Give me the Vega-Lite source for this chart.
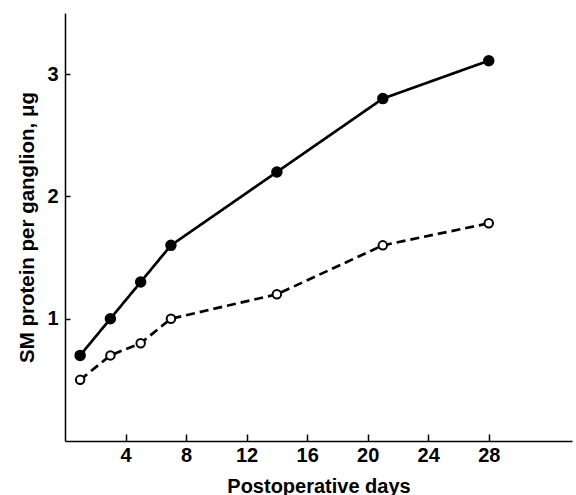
{
  "$schema": "https://vega.github.io/schema/vega-lite/v6.json",
  "width": 507,
  "height": 428,
  "autosize": "none",
  "padding": {"left": 65, "top": 13, "right": 4, "bottom": 54},
  "background": "white",
  "config": {
    "view": {"stroke": null},
    "axis": {
      "grid": false,
      "domainColor": "black",
      "domainWidth": 1.5,
      "tickColor": "black",
      "tickWidth": 1.5,
      "labelColor": "black",
      "titleColor": "black",
      "labelFont": "Liberation Sans",
      "titleFont": "Liberation Sans",
      "labelFontSize": 20,
      "titleFontSize": 20,
      "labelFontWeight": "bold",
      "titleFontWeight": "bold"
    }
  },
  "data": {
    "values": [
      {"day": 1, "protein": 0.7, "group": "filled"},
      {"day": 3, "protein": 1.0, "group": "filled"},
      {"day": 5, "protein": 1.3, "group": "filled"},
      {"day": 7, "protein": 1.6, "group": "filled"},
      {"day": 14, "protein": 2.2, "group": "filled"},
      {"day": 21, "protein": 2.8, "group": "filled"},
      {"day": 28, "protein": 3.11, "group": "filled"},
      {"day": 1, "protein": 0.5, "group": "open"},
      {"day": 3, "protein": 0.7, "group": "open"},
      {"day": 5, "protein": 0.8, "group": "open"},
      {"day": 7, "protein": 1.0, "group": "open"},
      {"day": 14, "protein": 1.2, "group": "open"},
      {"day": 21, "protein": 1.6, "group": "open"},
      {"day": 28, "protein": 1.78, "group": "open"}
    ]
  },
  "encoding": {
    "x": {
      "field": "day",
      "type": "quantitative",
      "scale": {"domain": [0, 33.5], "nice": false, "zero": false},
      "axis": {
        "values": [4, 8, 12, 16, 20, 24, 28],
        "tickSize": -7,
        "labelPadding": 27,
        "labelBaseline": "alphabetic",
        "title": "Postoperative days",
        "titleY": 51,
        "titleBaseline": "alphabetic"
      }
    },
    "y": {
      "field": "protein",
      "type": "quantitative",
      "scale": {"domain": [0, 3.5], "nice": false},
      "axis": {
        "values": [1, 2, 3],
        "tickSize": -5,
        "labelPadding": 12,
        "title": "SM protein per ganglion, μg",
        "titleX": -32,
        "titleBaseline": "alphabetic",
        "titleFontSize": 20.5
      }
    }
  },
  "layer": [
    {
      "mark": {"type": "line", "color": "black", "strokeWidth": 2.7},
      "encoding": {
        "strokeDash": {
          "field": "group",
          "type": "nominal",
          "scale": {"domain": ["filled", "open"], "range": [[1, 0], [9, 5]]},
          "legend": null
        },
        "strokeWidth": {
          "field": "group",
          "type": "nominal",
          "scale": {"domain": ["filled", "open"], "range": [2.8, 2.5]},
          "legend": null
        }
      }
    },
    {
      "mark": {"type": "point", "shape": "circle", "filled": true, "stroke": "black", "strokeWidth": 2, "opacity": 1},
      "encoding": {
        "fill": {
          "field": "group",
          "type": "nominal",
          "scale": {"domain": ["filled", "open"], "range": ["black", "white"]},
          "legend": null
        },
        "size": {
          "field": "group",
          "type": "nominal",
          "scale": {"domain": ["filled", "open"], "range": [90, 72]},
          "legend": null
        }
      }
    }
  ]
}
